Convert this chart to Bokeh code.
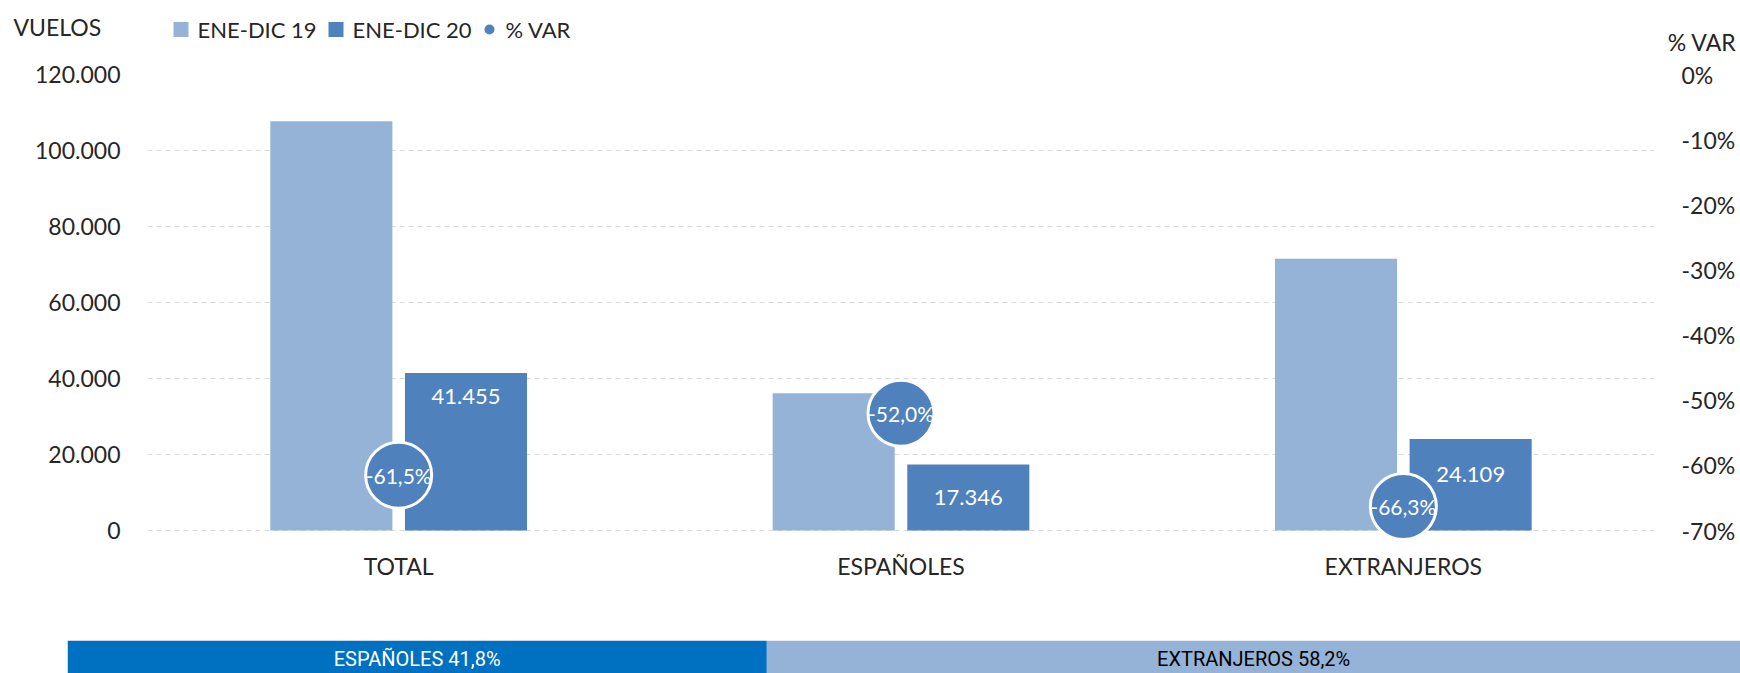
from bokeh.plotting import figure
from bokeh.models import (FactorRange, Range1d, LinearAxis, FixedTicker,
                          ColumnDataSource)
from bokeh.transform import dodge
from bokeh.layouts import column
from bokeh.core.properties import value
from bokeh.embed import file_html
from bokeh.resources import INLINE

# ---------------- data ----------------
categories = ["TOTAL", "ESPAÑOLES", "EXTRANJEROS"]
vuelos_19 = [107700, 36100, 71500]
vuelos_20 = [41455, 17346, 24109]
var_pct = [-61.5, -52.0, -66.3]
labels_20 = ["41.455", "17.346", "24.109"]
labels_var = ["-61,5%", "-52,0%", "-66,3%"]

left_ticks = [0, 20000, 40000, 60000, 80000, 100000, 120000]
left_tick_labels = ["0", "20.000", "40.000", "60.000", "80.000", "100.000", "120.000"]
right_ticks = [-70, -60, -50, -40, -30, -20, -10, 0]
right_tick_labels = ["-70%", "-60%", "-50%", "-40%", "-30%", "-20%", "-10%", "0%"]

share_names = ["ESPAÑOLES", "EXTRANJEROS"]
share_values = [41.8, 58.2]
share_labels = ["ESPAÑOLES 41,8%", "EXTRANJEROS 58,2%"]

series_names = ["ENE-DIC 19", "ENE-DIC 20", "% VAR"]
left_title = "VUELOS"
right_title = "% VAR"

# ---------------- styles ----------------
C19 = "#95B3D7"
C20 = "#4F81BD"
CVAR = "#4F81BD"
CSP = "#0070C0"
TXT = "#262626"
FONT = "Lato"
label_offsets = [24, 33, 36]

W = 1740
HEAD_H = 56
MAIN_H = 584
STRIP_H = 33

# ---------------- header (titles + legend), 1 unit = 1 px ----------------
head = figure(width=W, height=HEAD_H, x_range=Range1d(0, W), y_range=Range1d(0, HEAD_H),
              x_axis_type=None, y_axis_type=None, toolbar_location=None,
              output_backend="svg", min_border=0, min_border_left=0, min_border_right=0,
              min_border_top=0, min_border_bottom=0, outline_line_color=None,
              frame_align=False)
head.text(x=[13], y=[HEAD_H - 26], text=[left_title], text_font=value(FONT),
          text_font_size="23px", text_color=TXT, text_baseline="middle", text_align="left")
head.text(x=[1736], y=[HEAD_H - 41], text=[right_title], text_font=value(FONT),
          text_font_size="23px", text_color=TXT, text_baseline="middle", text_align="right")
head.rect(x=[180.5, 335.5], y=[HEAD_H - 29] * 2, width=15, height=15,
          fill_color=[C19, C20], line_color=None)
head.scatter(x=[489], y=[HEAD_H - 29], size=10, fill_color=CVAR, line_color=None)
head.text(x=[197, 352, 505], y=[HEAD_H - 29] * 3, text=series_names, text_font=value(FONT),
          text_font_size="22px", text_color=TXT, text_baseline="middle", text_align="left")

# ---------------- main chart ----------------
y_lo = -5000
y_hi = 120000
pct_lo = -70 + (y_lo / y_hi) * 70

src = ColumnDataSource(dict(cat=categories, v19=vuelos_19, v20=vuelos_20, var=var_pct,
                            l20=labels_20, lvar=labels_var, off=label_offsets))

p = figure(width=W, height=MAIN_H, x_range=FactorRange(*categories, range_padding=0),
           y_range=Range1d(y_lo, y_hi), toolbar_location=None, output_backend="svg",
           min_border_left=147, min_border_right=86, min_border_top=18, min_border_bottom=91,
           outline_line_color=None, frame_align=False)
p.extra_y_ranges = {"pct": Range1d(pct_lo, 0)}

p.xgrid.visible = False
p.ygrid.ticker = FixedTicker(ticks=left_ticks)
p.ygrid.grid_line_color = "#D9D9D9"
p.ygrid.grid_line_dash = "5 4"
p.ygrid.grid_line_width = 1

p.vbar(x=dodge("cat", -0.134, range=p.x_range), top="v19", width=0.243, source=src,
       fill_color=C19, line_color=None)
p.vbar(x=dodge("cat", 0.134, range=p.x_range), top="v20", width=0.243, source=src,
       fill_color=C20, line_color=None)
p.text(x=dodge("cat", 0.134, range=p.x_range), y="v20", text="l20", y_offset="off",
       source=src, text_color="white", text_font=value(FONT), text_font_size="22px",
       text_align="center", text_baseline="middle")

p.scatter(x="cat", y="var", y_range_name="pct", size=66, fill_color=CVAR,
          line_color="white", line_width=3, source=src)
p.text(x="cat", y="var", y_range_name="pct", text="lvar", source=src, text_color="white",
       text_font=value(FONT), text_font_size="21px", text_align="center",
       text_baseline="middle")

yax = p.yaxis[0]
yax.ticker = FixedTicker(ticks=left_ticks)
yax.major_label_overrides = dict(zip(left_ticks, left_tick_labels))
ax_r = LinearAxis(y_range_name="pct", ticker=FixedTicker(ticks=right_ticks),
                  major_label_overrides=dict(zip(right_ticks, right_tick_labels)))
p.add_layout(ax_r, "right")

for ax in [yax, ax_r]:
    ax.axis_line_color = None
    ax.major_tick_line_color = None
    ax.minor_tick_line_color = None
    ax.major_tick_in = 0
    ax.major_tick_out = 0
    ax.major_label_standoff = 27
    ax.major_label_text_font = FONT
    ax.major_label_text_font_size = "23px"
    ax.major_label_text_color = TXT

xax = p.xaxis[0]
xax.axis_line_color = None
xax.major_tick_line_color = None
xax.minor_tick_line_color = None
xax.major_tick_in = 0
xax.major_tick_out = 0
xax.major_label_standoff = 2
xax.major_label_text_font = FONT
xax.major_label_text_font_size = "23px"
xax.major_label_text_color = TXT

# ---------------- bottom strip ----------------
lefts = [sum(share_values[:i]) for i in range(len(share_values))]
rights = [lefts[i] + share_values[i] for i in range(len(share_values))]
mids = [(lefts[i] + rights[i]) / 2 for i in range(len(share_values))]
ssrc = ColumnDataSource(dict(name=share_names, left=lefts, right=rights, mid=mids,
                             lab=share_labels, col=[CSP, C19], tcol=["white", "black"],
                             y=[0, 0]))
strip = figure(width=W, height=STRIP_H, x_range=Range1d(0, sum(share_values)),
               y_range=Range1d(-0.5, 0.5), x_axis_type=None, y_axis_type=None,
               toolbar_location=None, output_backend="svg", min_border_left=67,
               min_border_right=0, min_border_top=0, min_border_bottom=0,
               outline_line_color=None, frame_align=False)
strip.hbar(y="y", left="left", right="right", height=1, fill_color="col", line_color=None,
           source=ssrc)
strip.text(x="mid", y="y", text="lab", text_color="tcol", text_font=value("Roboto"),
           text_font_size="20px", text_align="center", text_baseline="middle",
           y_offset=2, source=ssrc)

layout = column(head, p, strip, spacing=0)
open("out.html", "w").write(file_html(layout, INLINE))
